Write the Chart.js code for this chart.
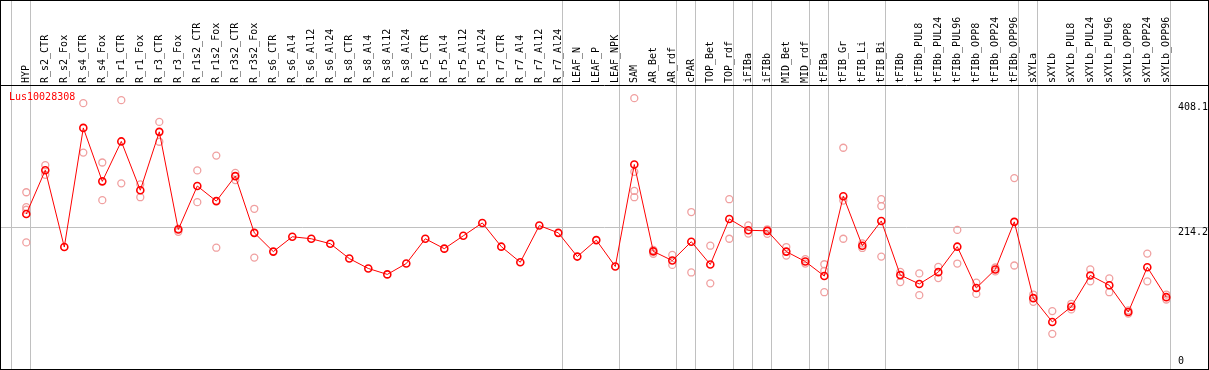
<!DOCTYPE html>
<html>
<head>
<meta charset="utf-8">
<script src="https://cdn.jsdelivr.net/npm/chart.js@4/dist/chart.umd.min.js"></script>
<style>
html, body { margin: 0; padding: 0; background: #fff; }
#wrap { width: 1209px; height: 370px; }
</style>
</head>
<body>
<div id="wrap"><canvas id="geneChart"></canvas></div>
<script>
const geneName = "Lus10028308";

const categories = ["HYP", "R_s2_CTR", "R_s2_Fox", "R_s4_CTR", "R_s4_Fox", "R_r1_CTR", "R_r1_Fox", "R_r3_CTR", "R_r3_Fox",
    "R_r1s2_CTR", "R_r1s2_Fox", "R_r3s2_CTR", "R_r3s2_Fox", "R_s6_CTR", "R_s6_Al4", "R_s6_Al12", "R_s6_Al24",
    "R_s8_CTR", "R_s8_Al4", "R_s8_Al12", "R_s8_Al24", "R_r5_CTR", "R_r5_Al4", "R_r5_Al12", "R_r5_Al24",
    "R_r7_CTR", "R_r7_Al4", "R_r7_Al12", "R_r7_Al24", "LEAF_N", "LEAF_P", "LEAF_NPK", "SAM", "AR_Bet", "AR_rdf",
    "cPAR", "TOP_Bet", "TOP_rdf", "iFIBa", "iFIBb", "MID_Bet", "MID_rdf", "tFIBa", "tFIB_Gr", "tFIB_Li", "tFIB_Bi",
    "tFIBb", "tFIBb_PUL8", "tFIBb_PUL24", "tFIBb_PUL96", "tFIBb_OPP8", "tFIBb_OPP24", "tFIBb_OPP96",
    "sXYLa", "sXYLb", "sXYLb_PUL8", "sXYLb_PUL24", "sXYLb_PUL96", "sXYLb_OPP8", "sXYLb_OPP24", "sXYLb_OPP96"];

const meanValues = [233.8, 301.9, 182.4, 367.6, 284.5, 346.6, 270.7, 361.5, 209.6, 277.3, 253.8, 292.7, 204.5,
    175.3, 198.4, 195.3, 187.6, 164.5, 149.1, 139.9, 156.8, 195.3, 179.9, 199.9, 219.9, 183.0, 158.8, 215.8, 204.5,
    167.6, 193.2, 152.2, 310.7, 175.7, 161.4, 190.7, 155.3, 226.1, 208.5, 207.6, 175.3, 159.9, 137.3, 261.4, 184.5,
    223.0, 138.8, 125.0, 143.4, 183.0, 118.8, 147.6, 221.6, 103.0, 66.0, 89.6, 138.3, 123.0, 81.4, 151.1, 104.5];

// single replicates (light circles)
const rep1 = [267.6, 309.6, null, 406.1, 313.8, 410.7, 279.9, 376.9, 211.0, 301.5, 324.6, 297.8, 241.9,
    null, null, null, null, null, null, null, null, null, null, null, null, null, null, null, null, null, null, null,
    413.8, 177.8, 170.1, 236.8, 184.5, 256.8, 216.2, 210.0, 182.4, 163.5, 155.7, 336.8, 188.0, 256.8,
    143.9, 141.4, 151.6, 209.1, 127.0, 150.6, 289.6, 108.6, 82.9, 94.2, 147.6, 133.7, 84.0, 172.2, 108.6];
const rep2 = [244.5, 294.7, null, 329.2, 255.3, 281.4, 259.9, 346.1, 206.0, 252.2, 181.4, 286.5, 166.0,
    null, null, null, null, null, null, null, null, null, null, null, null, null, null, null, null, null, null, null,
    299.3, 172.0, 154.7, 142.9, 126.0, 195.3, 203.4, 203.0, 169.1, 156.8, 145.5, 254.7, 181.0, 246.1,
    128.0, 107.6, 134.2, 156.8, 109.6, 144.5, 153.7, 97.3, 47.5, 85.5, 129.1, 112.2, 79.0, 129.1, 100.9];
const rep3 = [240.4, null, null, null, null, null, null, null, null, null, null, null, null,
    null, null, null, null, null, null, null, null, null, null, null, null, null, null, null, null, null, null, null,
    269.6, null, null, null, null, null, null, null, null, null, 112.2, 195.3, null, 167.6,
    null, null, null, null, null, null, null, null, null, null, null, null, null, null, null];
const rep4 = [189.6, null, null, null, null, null, null, null, null, null, null, null, null,
    null, null, null, null, null, null, null, null, null, null, null, null, null, null, null, null, null, null, null,
    259.9, null, null, null, null, null, null, null, null, null, null, null, null, null,
    null, null, null, null, null, null, null, null, null, null, null, null, null, null, null];

const yTicks = [0, 214.2, 408.1];
const yGridLines = [214.2];
const groupEnds = [-1, 0, 28, 31, 34, 35, 37, 38, 39, 41, 42, 45, 52, 53, 60];

const FONT = '10px "DejaVu Sans Mono", monospace';

const frame = {
    id: 'frame',
    beforeDatasetsDraw(chart) {
        const ctx = chart.ctx;
        const xs = chart.scales.x;
        const ys = chart.scales.y;
        ctx.save();
        ctx.lineWidth = 1;
        ctx.strokeStyle = '#c0c0c0';
        groupEnds.forEach(k => {
            const px = Math.round(xs.getPixelForValue(k + 0.2)) + 0.5;
            ctx.beginPath(); ctx.moveTo(px, 0); ctx.lineTo(px, 369); ctx.stroke();
        });
        yGridLines.forEach(v => {
            const py = Math.round(ys.getPixelForValue(v)) + 0.5;
            ctx.beginPath(); ctx.moveTo(1, py); ctx.lineTo(1208, py); ctx.stroke();
        });

        ctx.strokeStyle = '#000';
        ctx.strokeRect(0.5, 0.5, 1208, 369);
        ctx.beginPath(); ctx.moveTo(0, 85.5); ctx.lineTo(1209, 85.5); ctx.stroke();

        ctx.font = FONT;
        ctx.fillStyle = '#000';
        ctx.textAlign = 'left';
        ctx.textBaseline = 'middle';
        categories.forEach((c, i) => {
            ctx.save();
            ctx.translate(xs.getPixelForValue(i) + 0.5, 83);
            ctx.rotate(-Math.PI / 2);
            ctx.fillText(c, 0, 0);
            ctx.restore();
        });

        ctx.textBaseline = 'top';
        yTicks.forEach(v => {
            const py = Math.min(ys.getPixelForValue(v) + 1, 356);
            ctx.fillText(v === 0 ? '0' : v.toFixed(1), 1178, py);
        });

        ctx.fillStyle = '#ff0000';
        ctx.textBaseline = 'alphabetic';
        ctx.fillText(geneName, 9, 100);
        ctx.restore();
    }
};

function repSet(data) {
    return {
        data: data,
        showLine: false,
        pointRadius: 3.5,
        pointBorderWidth: 1.3,
        pointBorderColor: '#f0a0a0',
        pointBackgroundColor: 'rgba(0,0,0,0)',
        clip: false,
        order: 1
    };
}

new Chart(document.getElementById('geneChart'), {
    type: 'line',
    data: {
        labels: categories,
        datasets: [
            {
                data: meanValues,
                borderColor: '#ff0000',
                borderWidth: 1,
                tension: 0,
                pointRadius: 3.5,
                pointBorderWidth: 1.6,
                pointBorderColor: '#ff0000',
                pointBackgroundColor: 'rgba(0,0,0,0)',
                clip: false,
                order: 0
            },
            repSet(rep1),
            repSet(rep2),
            repSet(rep3),
            repSet(rep4)
        ]
    },
    options: {
        responsive: true,
        maintainAspectRatio: false,
        animation: false,
        layout: { padding: { left: 26.3, right: 42.7, top: 85, bottom: 2.8 } },
        plugins: { legend: { display: false }, tooltip: { enabled: false } },
        scales: {
            x: { type: 'category', offset: false, display: false },
            y: { min: 0, max: 434.3, display: false }
        }
    },
    plugins: [frame]
});
</script>
</body>
</html>
